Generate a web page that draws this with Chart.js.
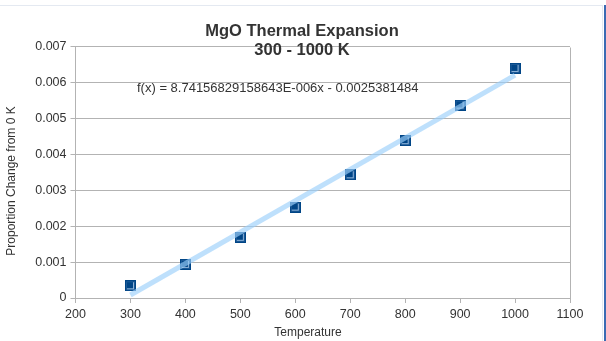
<!DOCTYPE html>
<html>
<head>
<meta charset="utf-8">
<title>MgO Thermal Expansion</title>
<script src="https://cdn.jsdelivr.net/npm/chart.js@4.4.1/dist/chart.umd.min.js"></script>
<style>
  html, body { margin: 0; padding: 0; background: #fff; }
  #wrap { position: relative; width: 606px; height: 341px; overflow: hidden; }
  /* thin page frame around the chart */
  #frame {
    position: absolute; left: 0; top: 5px; width: 602px; height: 340px;
    border-top: 1px solid #e4e9f1; border-right: 1px solid #e4e9f1;
  }
  #edge { position: absolute; left: 604px; top: 5px; width: 2px; height: 336px; background: #3b6bb3; }
  canvas { position: absolute; left: 0; top: 0; }
</style>
</head>
<body>
<div id="wrap">
  <div id="frame"></div>
  <div id="edge"></div>
  <canvas id="chart" width="606" height="341"></canvas>
</div>
<script>
// measured points
const temperatures = [300, 400, 500, 600, 700, 800, 900, 1000];
const proportionChange = [0.00034, 0.000935, 0.00169, 0.00253, 0.00343, 0.00438, 0.00537, 0.00639];

// linear fit, same numbers as the printed equation
const fitSlope = 8.74156829158643E-006;
const fitIntercept = -0.0025381484;
const fitRange = [300, 1000];

const xTicks = [200, 300, 400, 500, 600, 700, 800, 900, 1000, 1100];
const yTicks = [0, 0.001, 0.002, 0.003, 0.004, 0.005, 0.006, 0.007];

const titleLines = ['MgO Thermal Expansion', '300 - 1000 K'];
const equationText = 'f(x) = 8.74156829158643E-006x - 0.0025381484';

const FONT = '"Liberation Sans", Arial, sans-serif';
const GRID = '#b3b3b3';
const TEXT = '#333333';

// square marker with the light inner edge
function makeMarker() {
  const c = document.createElement('canvas');
  c.width = 11; c.height = 11;
  const g = c.getContext('2d');
  g.fillStyle = '#004586';
  g.fillRect(0, 0, 11, 11);
  g.fillStyle = '#1d5a96';
  g.fillRect(1, 1, 9, 9);
  g.fillStyle = '#004586';
  g.fillRect(2, 2, 7, 7);
  g.fillStyle = '#8fb4da';
  g.fillRect(8, 2, 1, 7);
  g.fillRect(2, 8, 7, 1);
  return c;
}

const scatterPoints = temperatures.map((t, i) => ({ x: t, y: proportionChange[i] }));
const fitPoints = fitRange.map(t => ({ x: t, y: fitSlope * t + fitIntercept }));

const chartText = {
  id: 'chartText',
  afterDraw(chart) {
    const ctx = chart.ctx;
    const area = chart.chartArea;
    ctx.save();

    // frame of the plot area (right side, top is the 0.007 grid line)
    ctx.strokeStyle = GRID;
    ctx.lineWidth = 1;
    ctx.beginPath();
    ctx.moveTo(Math.round(area.right) + 0.5, Math.round(area.top) + 0.5);
    ctx.lineTo(Math.round(area.right) + 0.5, Math.round(area.bottom) + 0.5);
    ctx.stroke();

    ctx.fillStyle = TEXT;
    ctx.textAlign = 'center';
    ctx.textBaseline = 'middle';

    ctx.font = 'bold 16.5px ' + FONT;
    ctx.fillText(titleLines[0], 302, 31);
    ctx.fillText(titleLines[1], 302, 50);

    ctx.font = '13px ' + FONT;
    ctx.textAlign = 'left';
    ctx.fillText(equationText, 137, 88);

    ctx.textAlign = 'center';
    ctx.font = '12px ' + FONT;
    ctx.fillText('Temperature', 308, 333);

    ctx.translate(12, 181);
    ctx.rotate(-Math.PI / 2);
    ctx.fillText('Proportion Change from 0 K', 0, 0);
    ctx.restore();
  }
};

new Chart(document.getElementById('chart'), {
  type: 'scatter',
  data: {
    datasets: [
      {
        label: 'Trend',
        type: 'line',
        data: fitPoints,
        borderColor: 'rgba(155, 208, 250, 0.65)',
        borderWidth: 5,
        pointRadius: 0,
        fill: false,
        order: 0
      },
      {
        label: 'Proportion Change',
        data: scatterPoints,
        pointStyle: makeMarker(),
        pointRadius: 6,
        order: 1
      }
    ]
  },
  options: {
    responsive: false,
    animation: false,
    devicePixelRatio: 1,
    layout: { padding: { top: 46.5, right: 36, left: 0, bottom: 0 } },
    plugins: {
      legend: { display: false },
      tooltip: { enabled: false },
      title: { display: false }
    },
    scales: {
      x: {
        type: 'linear',
        min: 200,
        max: 1100,
        afterBuildTicks: s => { s.ticks = xTicks.map(v => ({ value: v })); },
        afterFit: s => { s.height = 43; },
        grid: { drawOnChartArea: false, color: GRID, tickLength: 5 },
        border: { color: GRID },
        ticks: {
          color: TEXT,
          font: { family: FONT, size: 12.5 },
          padding: 4,
          maxRotation: 0,
          callback: v => String(v)
        }
      },
      y: {
        min: 0,
        max: 0.007,
        afterBuildTicks: s => { s.ticks = yTicks.map(v => ({ value: v })); },
        afterFit: s => { s.width = 75.5; },
        grid: { color: GRID, tickLength: 5 },
        border: { color: GRID },
        ticks: {
          color: TEXT,
          font: { family: FONT, size: 12.5 },
          padding: 4,
          callback: v => v === 0 ? '0' : v.toFixed(3)
        }
      }
    }
  },
  plugins: [chartText]
});
</script>
</body>
</html>
